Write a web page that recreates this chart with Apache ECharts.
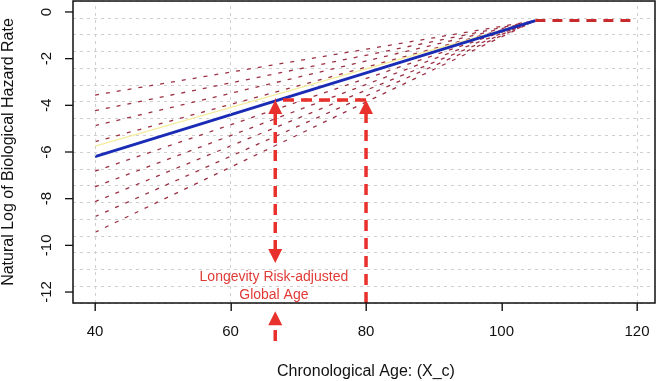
<!DOCTYPE html>
<html><head><meta charset="utf-8">
<script src="https://cdn.jsdelivr.net/npm/echarts@6/dist/echarts.min.js"></script>
<style>html,body{margin:0;padding:0;background:#fff}#c{width:660px;height:381px}</style>
</head><body><div id="c"></div>
<script>
// ---- data ----
const xTicks = [40, 60, 80, 100, 120];
const yTicks = [-12, -10, -8, -6, -4, -2, 0];
const startAge = 40;
const fanStartValues = [-3.56, -4.23, -4.87, -5.56, -6.82, -7.49, -8.13, -8.77, -9.44];
const convergeAge = 105;
const convergeValue = -0.37;
const plateauEndAge = 120;
const meanStartValue = -6.2;
const yellowStartValue = -5.75;
const gridAges = [40, 60, 120];
const globalAge = 66.6;
const chronoAge = 80;
const hazardAtChrono = -3.77;
// arrows: [x1, y1, x2, y2, headAtStart, headAtEnd]
const arrows = [
  [chronoAge, -12.47, chronoAge, hazardAtChrono, 0, 1],
  [chronoAge, hazardAtChrono, globalAge, hazardAtChrono, 0, 0],
  [globalAge, hazardAtChrono, globalAge, -10.76, 1, 1],
  [globalAge, -14.1, globalAge, -12.82, 0, 1]
];
const annotText = 'Longevity Risk-adjusted\nGlobal Age';
const annotPos = [66.4, -11.75];

const X_MIN = 36.75, X_MAX = 122.65, Y_MIN = -12.47, Y_MAX = 0.47;
const FONT = "'Liberation Sans', Arial, Helvetica, sans-serif";
const chart = echarts.init(document.getElementById('c'), null, {renderer: 'canvas'});

const series = [];
// vertical grid lines
series.push({
  type: 'line', data: [], z: 1, silent: true,
  markLine: {
    silent: true, symbol: 'none', label: {show: false},
    lineStyle: {color: '#cfcfcf', type: [3, 4], width: 1},
    data: gridAges.map(a => ({xAxis: a}))
  }
});
// fan lines
fanStartValues.forEach(v => {
  series.push({
    type: 'line', z: 3, symbol: 'none', silent: true,
    data: [[startAge, v], [convergeAge, convergeValue]],
    lineStyle: {color: '#9c3044', width: 1.3, type: [4, 7]}
  });
});
// yellow
series.push({
  type: 'line', z: 3, symbol: 'none', silent: true,
  data: [[startAge, yellowStartValue], [convergeAge, convergeValue]],
  lineStyle: {color: '#f3ec9c', width: 1.2}
});
// mean blue
series.push({
  type: 'line', z: 4, symbol: 'none', silent: true,
  data: [[startAge, meanStartValue], [convergeAge, convergeValue]],
  lineStyle: {color: '#1a2cb5', width: 3}
});
// plateau
series.push({
  type: 'line', z: 4, symbol: 'none', silent: true,
  data: [[convergeAge, convergeValue], [plateauEndAge, convergeValue]],
  lineStyle: {color: '#c82a2e', width: 3, type: [10, 7]}
});
// y axis ticks (drawn through the axis scale)
series.push({
  type: 'custom', z: 12, silent: true, clip: false,
  data: yTicks.map(v => [X_MIN, v]),
  encode: {x: 0, y: 1},
  renderItem: function (params, api) {
    const p = api.coord([api.value(0), api.value(1)]);
    return {type: 'line', shape: {x1: p[0], y1: p[1], x2: p[0] - 8, y2: p[1]},
            style: {stroke: '#111', lineWidth: 1.3}};
  }
});
// arrows
const RED = '#e8302c';
function head(tip, from, size) {
  const dx = tip[0] - from[0], dy = tip[1] - from[1];
  const L = Math.hypot(dx, dy) || 1;
  const ux = dx / L, uy = dy / L;
  const bx = tip[0] - ux * size, by = tip[1] - uy * size;
  const px = -uy * size / 2, py = ux * size / 2;
  return {points: [tip, [bx + px, by + py], [bx - px, by - py]], base: [bx, by]};
}
series.push({
  type: 'custom', z: 6, silent: true, clip: false,
  data: arrows,
  encode: {x: [0, 2], y: [1, 3]},
  renderItem: function (params, api) {
    let p1 = api.coord([api.value(0), api.value(1)]);
    let p2 = api.coord([api.value(2), api.value(3)]);
    const hs = api.value(4), he = api.value(5);
    const size = 14;
    const children = [];
    let a = p1, b = p2;
    if (he) {
      const h = head(p2, p1, size);
      children.push({type: 'polygon', shape: {points: h.points}, style: {fill: RED}});
      b = h.base;
    }
    if (hs) {
      const h = head(p1, p2, size);
      children.push({type: 'polygon', shape: {points: h.points}, style: {fill: RED}});
      a = h.base;
    }
    children.unshift({
      type: 'line', shape: {x1: a[0], y1: a[1], x2: b[0], y2: b[1]},
      style: {stroke: RED, lineWidth: 3.5, lineDash: [11, 7]}
    });
    return {type: 'group', children: children};
  }
});
// annotation text
series.push({
  type: 'custom', z: 6, silent: true, clip: false,
  data: [annotPos],
  encode: {x: 0, y: 1},
  renderItem: function (params, api) {
    const p = api.coord([api.value(0), api.value(1)]);
    return {
      type: 'text', x: p[0], y: p[1],
      style: {text: annotText, fill: '#e03a36', font: '14px ' + FONT,
              align: 'center', verticalAlign: 'middle', lineHeight: 18}
    };
  }
});

chart.setOption({
  animation: false,
  backgroundColor: '#fff',
  grid: [
    {left: 73, top: 1, right: 5, bottom: 78, show: true, borderColor: '#111', borderWidth: 1.5,
     containLabel: false, outerBoundsMode: 'none', z: 10},
    {left: 95, top: 12, right: 23, bottom: 89, show: false, containLabel: false, outerBoundsMode: 'none'}
  ],
  xAxis: [{
    gridIndex: 0, type: 'value', min: X_MIN, max: X_MAX,
    axisLine: {show: false, onZero: false}, axisTick: {show: false}, axisLabel: {show: false},
    splitLine: {show: false}
  }, {
    gridIndex: 1, type: 'value', min: xTicks[0], max: xTicks[xTicks.length - 1], interval: xTicks[1] - xTicks[0],
    position: 'bottom', offset: 11,
    axisLine: {show: false, onZero: false},
    axisTick: {show: false},
    axisLabel: {margin: 21, color: '#111', fontSize: 15, fontFamily: FONT, showMinLabel: true, showMaxLabel: true},
    splitLine: {show: false},
    name: 'Chronological Age: (X_c)', nameLocation: 'middle', nameGap: 61,
    nameTextStyle: {fontSize: 16, color: '#111', fontFamily: FONT}
  }],
  yAxis: [{
    gridIndex: 0, type: 'value', min: Y_MIN, max: Y_MAX,
    axisLine: {show: false, onZero: false}, axisTick: {show: false}, axisLabel: {show: false},
    splitLine: {show: false}
  }, {
    gridIndex: 0, type: 'value', min: 0, max: 18, interval: 1, position: 'right',
    axisLine: {show: false, onZero: false}, axisTick: {show: false}, axisLabel: {show: false},
    splitLine: {show: true, lineStyle: {color: '#cfcfcf', type: [3, 4], width: 1}}
  }, {
    gridIndex: 1, type: 'value', min: yTicks[0], max: yTicks[yTicks.length - 1], interval: yTicks[1] - yTicks[0],
    position: 'left', offset: 22,
    axisLine: {show: false, onZero: false},
    axisTick: {show: false},
    axisLabel: {rotate: 90, margin: 19, color: '#111', fontSize: 15, fontFamily: FONT, showMinLabel: true, showMaxLabel: true},
    splitLine: {show: false},
    name: 'Natural Log of Biological Hazard Rate', nameLocation: 'middle', nameGap: 56,
    nameTextStyle: {fontSize: 16, color: '#111', fontFamily: FONT}
  }],
  series: series
});

// x axis ticks placed through the library's scale (convertToPixel)
const tickEls = xTicks.map(v => {
  const top = chart.convertToPixel({xAxisIndex: 0, yAxisIndex: 0}, [v, Y_MIN]);
  return {
    type: 'rect', z: 100, zlevel: 1, silent: true,
    shape: {x: Math.round(top[0]) - 0.5, y: Math.round(top[1]), width: 1.4, height: 8},
    style: {fill: '#111'}
  };
});
chart.setOption({graphic: {elements: tickEls}});
</script>
</body></html>
